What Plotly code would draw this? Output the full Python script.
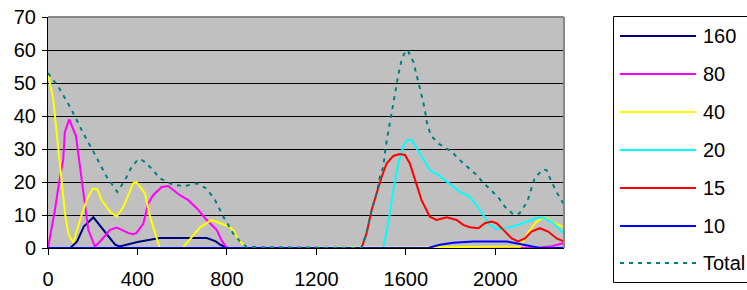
import plotly.graph_objects as go

# ---------------- data ----------------
x160 = [0, 100, 130, 160, 203, 240, 300, 320, 400, 500, 600, 710, 750, 770, 800, 2300]
y160 = [0, 0, 2, 6.5, 9.3, 6, 1, 0.5, 1.8, 3, 3, 3, 2, 1, 0, 0]

x80 = [0, 31, 50, 68, 75, 95, 125, 150, 180, 210, 240, 277, 307, 330, 360, 381, 395, 426,
       448, 470, 508, 537, 590, 627, 666, 709, 754, 776, 800, 2180, 2250, 2306]
y80 = [0, 11.5, 20, 26.7, 35, 39, 34, 20.6, 5.5, 0.4, 2.5, 5.5, 6.2, 5.5, 4.5, 4.2, 4.5, 7.3,
       13.5, 16, 18.5, 18.8, 16, 14.5, 12, 8.5, 5.5, 2.3, 0, 0, 0.5, 1.5]

x40 = [0, 24, 39, 54, 76, 91, 100, 113, 143, 173, 200, 220, 240, 263, 277, 307, 337, 359,
       381, 395, 434, 456, 478, 500, 602, 642, 679, 732, 784, 805, 828, 851, 888, 2110,
       2155, 2185, 2207, 2229, 2266, 2306]
y40 = [53, 44.8, 34.7, 24.6, 10.5, 4.5, 3, 1.6, 8.5, 14.5, 18, 17.8, 14.5, 12.3, 11, 9.5,
       12.5, 16, 19.6, 20, 16.5, 9.5, 4.5, 0, 0, 3.4, 6.2, 8.5, 7.3, 6.6, 5.5, 2.6, 0, 0.4,
       5.5, 8, 9, 9, 7.5, 6.3]

x20 = [0, 1499, 1521, 1544, 1566, 1588, 1606, 1626, 1648, 1678, 1707, 1745, 1790, 1842,
       1886, 1916, 1946, 1976, 2006, 2036, 2080, 2125, 2162, 2185, 2214, 2251, 2281, 2306]
y20 = [0, 0, 7.5, 17.6, 25.6, 30.7, 32.7, 32.7, 30.2, 26.7, 23.6, 22.1, 19.6, 17, 15.5, 13,
       10, 7, 5.8, 5.8, 6.5, 7.5, 8.5, 9.2, 9.2, 8, 6, 4.5]

x15 = [0, 1402, 1424, 1447, 1469, 1492, 1514, 1544, 1573, 1596, 1618, 1640, 1670, 1707,
       1737, 1782, 1827, 1856, 1886, 1924, 1953, 1983, 2006, 2036, 2073, 2102, 2132, 2162,
       2199, 2236, 2274, 2306]
y15 = [0, 0, 4.4, 11.5, 16.5, 21.6, 25.6, 27.9, 28.5, 28.2, 25.6, 20.6, 14.5, 9.5, 8.5,
       9.3, 8.5, 7, 6.3, 6, 7.5, 8, 7.5, 5.5, 2.9, 2, 2.9, 5, 6, 5, 2.9, 2]

x10 = [0, 1700, 1752, 1812, 1901, 2050, 2110, 2199, 2306]
y10 = [0, 0, 1, 1.6, 2, 2, 1.2, 0, 0]

xTot = [0, 46, 106, 158, 203, 262, 310, 344, 374, 404, 425, 463, 500, 560, 612, 665, 709,
        747, 784, 828, 858, 888, 1400, 1424, 1447, 1469, 1484, 1499, 1511, 1521, 1529, 1541,
        1551, 1561, 1569, 1581, 1600, 1610, 1633, 1660, 1675, 1685, 1693, 1711, 1745, 1804,
        1856, 1909, 1949, 1990, 2017, 2043, 2080, 2107, 2143, 2159, 2177, 2214, 2229, 2251,
        2277, 2306]
yTot = [53, 48.9, 41.8, 34.7, 29.2, 21.6, 17, 20.6, 24.6, 26.9, 26.5, 24.1, 21.1, 19.1,
        18.8, 19.6, 18, 14.5, 9.5, 4.4, 2, 0.3, 0, 4.4, 11.5, 16.5, 21.6, 24.6, 31.2, 35.2,
        38.8, 42.8, 46.9, 50.4, 53.4, 57, 60, 59.6, 56.5, 49.4, 45, 41.8, 38.3, 34.2, 31.7,
        29.2, 25.7, 22.6, 19.6, 16.9, 15, 12.5, 10.2, 10.4, 14, 17.6, 21.4, 23.8, 23.6,
        20.1, 16.6, 13.3]

names = ["160", "80", "40", "20", "15", "10", "Total"]
colors = ["#000080", "#FF00FF", "#FFFF00", "#00FFFF", "#FF0000", "#0000FF", "#008080"]
xs = [x160, x80, x40, x20, x15, x10, xTot]
ys = [y160, y80, y40, y20, y15, y10, yTot]
yticks = [0, 10, 20, 30, 40, 50, 60, 70]
xticks = [0, 400, 800, 1200, 1600, 2000]

# ---------------- figure ----------------
W, H = 747, 290
L, R, T, B = 48, 564, 17, 248
FONT = "Liberation Sans, Arial, sans-serif"
TOTAL_DASH = "4px,5px"

fig = go.Figure()
for n, c, xv, yv in zip(names, colors, xs, ys):
    fig.add_trace(go.Scatter(
        x=xv, y=yv, name=n, mode="lines", showlegend=False,
        line=dict(color=c, width=2, dash=TOTAL_DASH if n == "Total" else "solid"),
    ))

def px_x(p):
    return (p - L) / (R - L)

def px_y(p):
    return (B - p) / (B - T)

shapes = []
annotations = []
# plot border (top/right) gray
shapes.append(dict(type="line", xref="paper", yref="paper", x0=0, x1=1, y0=1, y1=1,
                   line=dict(color="#888888", width=2), layer="above"))
shapes.append(dict(type="line", xref="paper", yref="paper", x0=1, x1=1, y0=0, y1=1,
                   line=dict(color="#888888", width=2), layer="above"))
# legend box
shapes.append(dict(type="rect", xref="paper", yref="paper",
                   x0=px_x(613.5), x1=px_x(760), y0=px_y(16.5), y1=px_y(282.5),
                   line=dict(color="black", width=1), fillcolor="white", layer="above"))
rows = [36, 74, 112, 150, 188, 226, 263]
for n, c, ry in zip(names, colors, rows):
    shapes.append(dict(type="line", xref="paper", yref="paper",
                       x0=px_x(620), x1=px_x(696), y0=px_y(ry), y1=px_y(ry),
                       line=dict(color=c, width=2, dash=TOTAL_DASH if n == "Total" else "solid"),
                       layer="above"))
    annotations.append(dict(xref="paper", yref="paper", x=px_x(701), y=px_y(ry),
                            xanchor="left", yanchor="middle", text=n, showarrow=False,
                            font=dict(family=FONT, size=20, color="black")))

fig.update_layout(
    width=W, height=H,
    margin=dict(l=L, r=W - R, t=T, b=H - B, pad=0, autoexpand=False),
    paper_bgcolor="white", plot_bgcolor="#C0C0C0",
    font=dict(family=FONT, size=20, color="black"),
    showlegend=False,
    shapes=shapes, annotations=annotations,
    xaxis=dict(range=[0, 2307], tickmode="array", tickvals=xticks,
               ticktext=[str(v) for v in xticks], automargin=False,
               showgrid=False, zeroline=False, showline=True, linecolor="black", linewidth=1,
               ticks="outside", ticklen=6, tickcolor="black", ticklabelstandoff=7),
    yaxis=dict(range=[0, 70], tickmode="array", tickvals=yticks,
               ticktext=[str(v) for v in yticks], automargin=False,
               showgrid=True, gridcolor="black", gridwidth=1, zeroline=False,
               showline=True, linecolor="black", linewidth=1,
               ticks="outside", ticklen=5, tickcolor="black", ticklabelstandoff=2),
)

fig.write_html("out.html", config={"displayModeBar": False},
               post_script="document.body.style.margin='0';document.body.style.overflow='hidden';")
